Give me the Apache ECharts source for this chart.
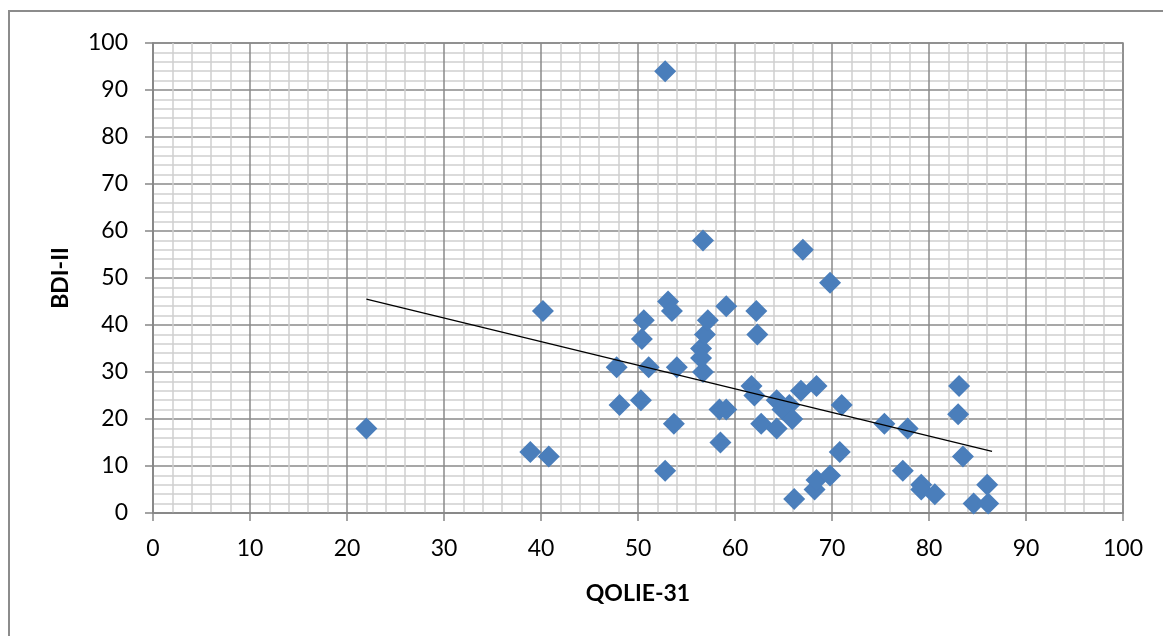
<!DOCTYPE html>
<html>
<head>
<meta charset="utf-8">
<script src="https://cdn.jsdelivr.net/npm/echarts@6/dist/echarts.min.js"></script>
<style>
html,body{margin:0;padding:0;background:#fff;}
#chart{width:1163px;height:636px;}
</style>
</head>
<body>
<div id="chart"></div>
<script>
// QOLIE-31 (x) vs BDI-II (y)
var qolie = [22.0, 38.9, 40.8, 40.2, 47.8, 48.1, 50.3, 50.4, 50.6, 51.1,
             52.8, 52.8, 53.1, 53.5, 53.7, 54.0, 56.7, 56.7, 56.5, 56.5,
             56.9, 57.2, 59.1, 58.4, 58.5, 59.1, 62.2, 62.3, 61.7, 62.0,
             62.7, 64.3, 64.3, 64.9, 65.6, 65.9, 66.1, 66.8, 67.0, 68.4,
             68.2, 68.4, 69.8, 69.8, 70.8, 71.0, 75.4, 77.8, 77.3, 79.2,
             79.2, 80.6, 83.0, 83.1, 83.5, 86.0, 84.6, 86.1];
var bdi   = [18, 13, 12, 43, 31, 23, 24, 37, 41, 31,
             94, 9, 45, 43, 19, 31, 58, 30, 35, 33,
             38, 41, 44, 22, 15, 22, 43, 38, 27, 25,
             19, 24, 18, 22, 23, 20, 3, 26, 56, 27,
             5, 7, 8, 49, 13, 23, 19, 18, 9, 6,
             5, 4, 21, 27, 12, 6, 2, 2];
var trendX = [22.0, 86.5];
var trendY = [45.5, 13.1];
var xTicks = [0, 10, 20, 30, 40, 50, 60, 70, 80, 90, 100];
var yTicks = [0, 10, 20, 30, 40, 50, 60, 70, 80, 90, 100];

var points = qolie.map(function (x, i) { return [x, bdi[i]]; });
var trend = trendX.map(function (x, i) { return [x, trendY[i]]; });

var chart = echarts.init(document.getElementById('chart'), null, {renderer: 'canvas'});
var font = 'Lato, "Open Sans", sans-serif';
function axis(name, ticks, isY) {
  return {
    type: 'value',
    min: ticks[0],
    max: ticks[ticks.length - 1],
    interval: ticks[1] - ticks[0],
    name: name,
    nameLocation: 'middle',
    nameGap: isY ? 81 : 69,
    nameTextStyle: {fontFamily: font, fontWeight: 'bold', fontSize: 23, color: '#000'},
    axisLine: {show: true, onZero: false, lineStyle: {color: '#868686', width: 1.5}},
    axisTick: {show: true, length: 8, lineStyle: {color: '#868686', width: 1.5}},
    axisLabel: {fontFamily: font, fontSize: 23, color: '#000', margin: isY ? 25 : 24},
    splitLine: {show: true, lineStyle: {color: '#8a8a8a', width: 1.5}},
    minorTick: {show: false, splitNumber: 5},
    minorSplitLine: {show: true, lineStyle: {color: '#d0d0d0', width: 1.5}}
  };
}
chart.setOption({
  animation: false,
  backgroundColor: '#fff',
  grid: {left: 153, top: 43, right: 40, bottom: 123, show: true, borderColor: '#8a8a8a', borderWidth: 1.5},
  graphic: [{
    type: 'rect', z: -1, silent: true,
    shape: {x: 9, y: 11, width: 1160, height: 700},
    style: {fill: 'none', stroke: '#8c8c8c', lineWidth: 2}
  }],
  xAxis: axis('QOLIE-31', xTicks, false),
  yAxis: axis('BDI-II', yTicks, true),
  series: [{
    type: 'scatter',
    data: points,
    symbol: 'diamond',
    symbolSize: 22,
    itemStyle: {color: '#4A7EBB', opacity: 1},
    z: 2
  }, {
    type: 'line',
    data: trend,
    symbol: 'none',
    lineStyle: {color: '#000', width: 1.3},
    z: 3
  }]
});
</script>
</body>
</html>
